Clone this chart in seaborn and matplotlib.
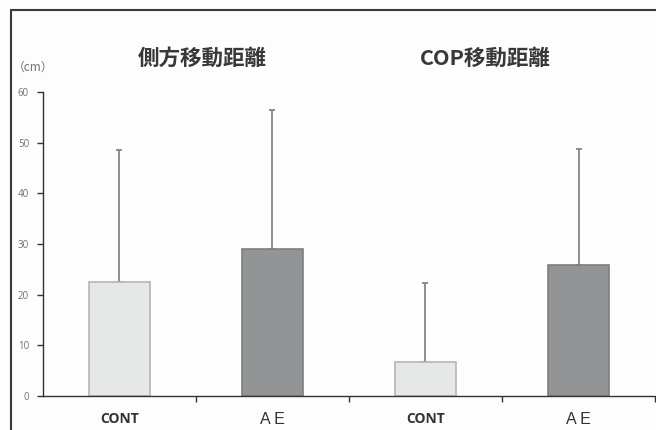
import matplotlib
matplotlib.use("Agg")
import matplotlib.pyplot as plt
from matplotlib.lines import Line2D
import seaborn as sns
import pandas as pd

sns.set_theme(style="white")
plt.rcParams['font.family'] = ['Noto Sans CJK JP', 'DejaVu Sans']

# Data: means and standard deviations (cm)
groups = ["CONT", "A E", "CONT ", "A E "]
means = [22.5, 29.0, 6.7, 25.8]
sds = [26.0, 27.4, 15.7, 22.9]
bar_colors = ["#e6e7e7", "#929496", "#e6e7e7", "#929496"]
edge_colors = ["#b4b5b6", "#7c7e80", "#b4b5b6", "#7c7e80"]
panel_titles = ["側方移動距離", "COP移動距離"]
yticks = [0, 10, 20, 30, 40, 50, 60]

df = pd.DataFrame({"group": groups, "mean": means})

fig = plt.figure(figsize=(6.56, 4.30), dpi=100)
fig.patch.set_facecolor("#fdfdfd")
ax = fig.add_axes([0.0655, 0.079, 0.933, 0.707])
ax.set_facecolor("#fdfdfd")

sns.barplot(data=df, x="group", y="mean", hue="group", palette=bar_colors,
            width=0.4, legend=False, ax=ax, errorbar=None, saturation=1)
for patch, ec in zip(ax.patches, edge_colors):
    patch.set_edgecolor(ec)
    patch.set_linewidth(1.2)

# Upward-only SD whiskers
ax.errorbar(range(len(means)), means, yerr=[[0] * len(sds), sds], fmt="none",
            ecolor="#858585", elinewidth=1.3, capsize=2, capthick=1.3, zorder=1)
for patch in ax.patches:
    patch.set_zorder(2)

ax.set_xlim(-0.5, 3.5)
ax.set_ylim(0, 60)
ax.set_yticks(yticks)
ax.set_yticklabels([str(v) for v in yticks], color="#707070", fontsize=7,
                   family=["Open Sans", "DejaVu Sans"])
ax.set_xticks([0.5, 1.5, 2.5, 3.5])
ax.set_xticklabels([])
ax.tick_params(axis="y", direction="out", length=4, width=1, color="#333333", pad=6, left=True)
ax.tick_params(axis="x", direction="out", length=4, width=1, color="#333333", bottom=True)
ax.set_xlabel("")
ax.set_ylabel("")
for side in ["top", "right"]:
    ax.spines[side].set_visible(False)
for side in ["left", "bottom"]:
    ax.spines[side].set_color("#333333")
    ax.spines[side].set_linewidth(1.0)

# Category labels under the axis
for i, g in enumerate(groups):
    is_cont = g.strip() == "CONT"
    ax.text(i, -4.6, g.strip(), ha="center", va="center",
            fontsize=10 if is_cont else 11.5,
            fontweight="bold" if is_cont else "normal",
            color="#333333",
            family=["Open Sans", "DejaVu Sans"] if is_cont else ["Liberation Sans", "DejaVu Sans"])

# Panel titles
fig.text(202 / 656, 1 - 58 / 430, panel_titles[0], ha="center", va="center",
         fontsize=15.5, fontweight="bold", color="#383838")
fig.text(485 / 656, 1 - 58 / 430, panel_titles[1], ha="center", va="center",
         fontsize=15.5, fontweight="bold", color="#383838")
fig.text(33 / 656, 1 - 67 / 430, "（cm）", ha="center", va="center",
         fontsize=8.5, color="#707070")

# Outer frame lines (left and top)
fig.add_artist(Line2D([11 / 656, 11 / 656], [0, 1 - 10 / 430],
                      transform=fig.transFigure, color="#3a3a3a", linewidth=1.5))
fig.add_artist(Line2D([11 / 656, 1], [1 - 10 / 430, 1 - 10 / 430],
                      transform=fig.transFigure, color="#3a3a3a", linewidth=1.5))

fig.savefig("out.png", dpi=100, facecolor=fig.get_facecolor())
